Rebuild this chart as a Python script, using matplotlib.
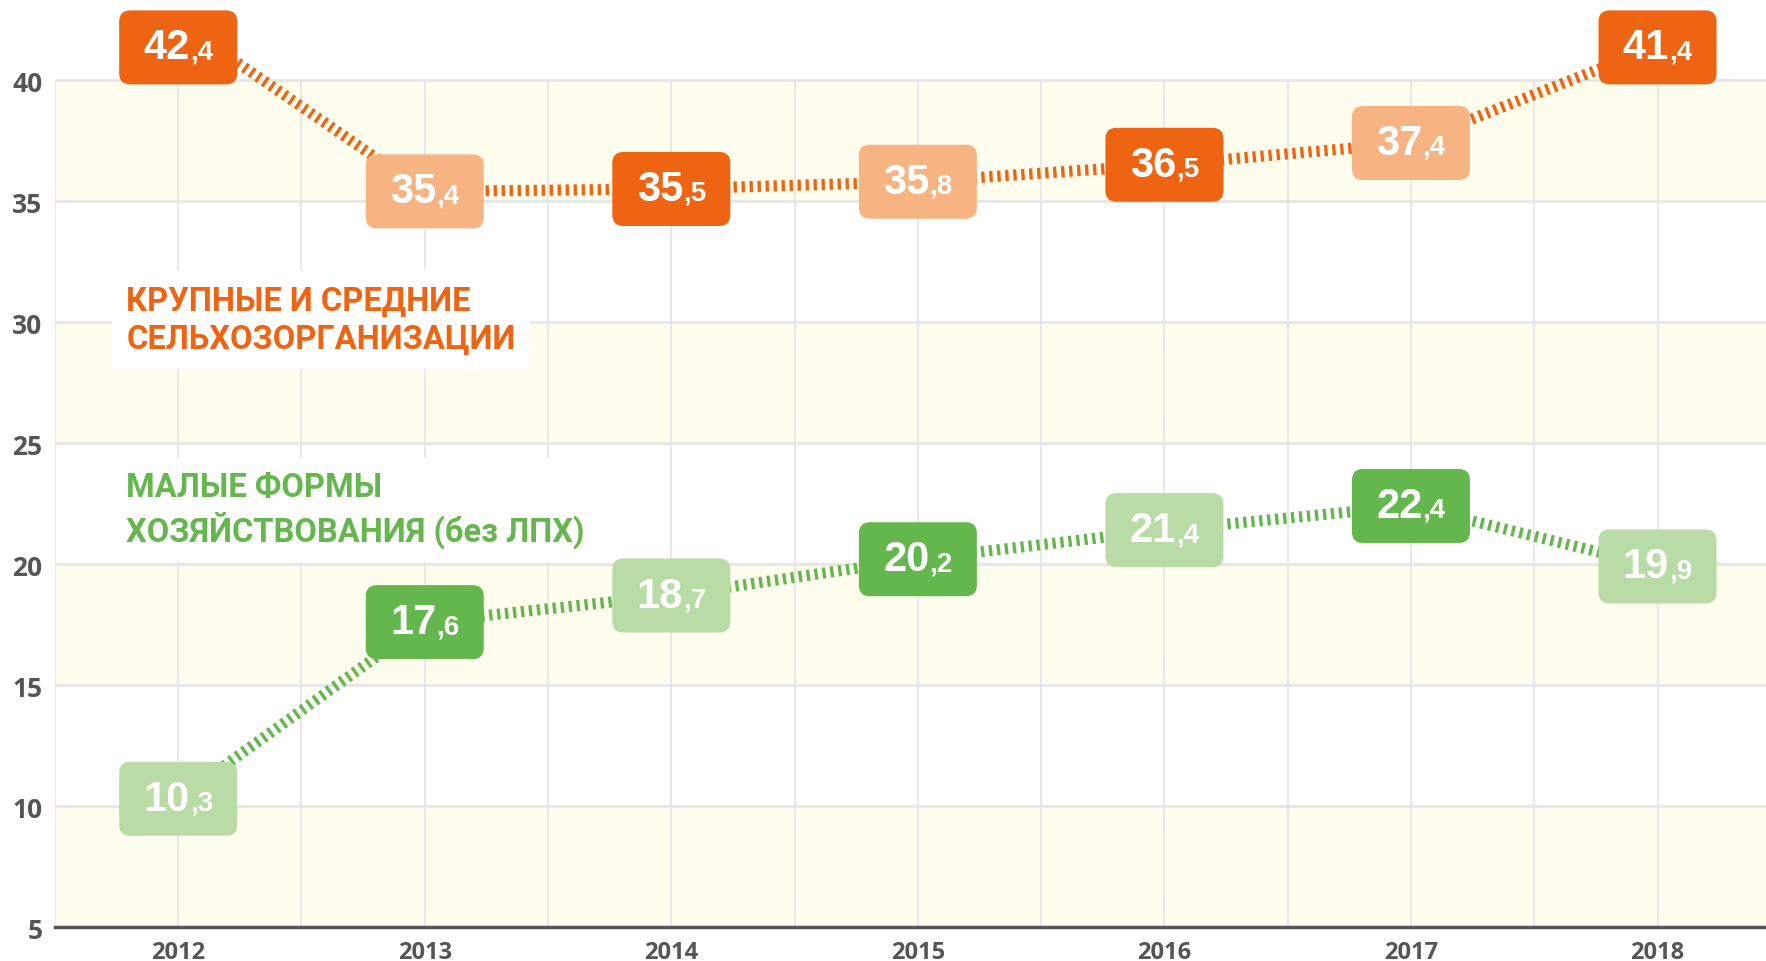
import matplotlib
matplotlib.use('Agg')
import matplotlib.pyplot as plt
import matplotlib.patches as mpatches
from matplotlib.offsetbox import TextArea, HPacker, AnnotationBbox

years = [2012, 2013, 2014, 2015, 2016, 2017, 2018]
large_farms = [42.4, 35.4, 35.5, 35.8, 36.5, 37.4, 41.4]
small_farms = [10.3, 17.6, 18.7, 20.2, 21.4, 22.4, 19.9]
y_ticks = [5, 10, 15, 20, 25, 30, 35, 40]
large_title = 'КРУПНЫЕ И СРЕДНИЕ\nСЕЛЬХОЗОРГАНИЗАЦИИ'
small_title = 'МАЛЫЕ ФОРМЫ\nХОЗЯЙСТВОВАНИЯ (без ЛПХ)'

ORANGE = '#ee6412'
ORANGE_LIGHT = '#f8b382'
GREEN = '#64b74c'
GREEN_LIGHT = '#b9dba6'
BAND = '#fefdee'
GRID = '#e6e6e6'
TICK = '#555555'

LABEL_FONT = 'Roboto'
TICK_FONT = 'Open Sans'
NUM_FONT = 'Liberation Sans'

fig = plt.figure(figsize=(17.66, 9.62), dpi=100)
ax = fig.add_axes([0.0311, 0.0353, 0.9689, 0.9647])
ax.set_xlim(2011.5, 2018.44)
ax.set_ylim(5, 43.35)

# yellow bands every other interval
for lo, hi in zip(y_ticks[:-1], y_ticks[1:]):
    if (lo // 5) % 2 == 1:
        ax.axhspan(lo, hi, color=BAND, lw=0, zorder=0)

ax.hlines(y_ticks[1:], 2011.5, 2018.44, color=GRID, lw=2, zorder=1)
half_years = [2011.5 + 0.5 * i for i in range(14)]
ax.vlines(half_years, 5, 40, color=GRID, lw=1.3, zorder=1)

for s in ['top', 'right', 'left']:
    ax.spines[s].set_visible(False)
ax.spines['bottom'].set_color(TICK)
ax.spines['bottom'].set_linewidth(2.5)
ax.spines['bottom'].set_zorder(3)

ax.set_xticks(years)
ax.set_xticklabels([str(y) for y in years])
ax.set_yticks(y_ticks)
ax.tick_params(length=0)
ax.tick_params(axis='x', pad=9)
ax.tick_params(axis='y', pad=9)
for lab in ax.get_xticklabels():
    lab.set_fontfamily(TICK_FONT); lab.set_fontweight('bold'); lab.set_fontsize(17); lab.set_color(TICK)
for lab in ax.get_yticklabels():
    lab.set_fontfamily(TICK_FONT); lab.set_fontweight('bold'); lab.set_fontsize(19); lab.set_color(TICK)

# series titles with white background
ax.text(2011.79, 30.1, large_title, color=ORANGE, fontsize=23.5, fontweight='bold',
        family=LABEL_FONT, linespacing=1.25, va='center', ha='left', zorder=2,
        bbox=dict(fc='white', ec='none', pad=10))
ax.text(2011.79, 22.25, small_title, color=GREEN, fontsize=23.5, fontweight='bold',
        family=LABEL_FONT, linespacing=1.25, va='center', ha='left', zorder=2,
        bbox=dict(fc='white', ec='none', pad=10))

# rounded box marker (size in px: 118 x 74)
box_path = mpatches.BoxStyle('Round', pad=0, rounding_size=11)(-59, -37, 118, 74, 1.0)
box_size = (118 * 0.72) ** 2
top_limit = 41.35


def draw_series(values, line_color, colors):
    ax.plot(years, values, color=line_color, lw=8, ls=(0, (0.3, 0.42)),
            dash_capstyle='butt', zorder=4)
    box_y = [min(v, top_limit) for v in values]
    ax.scatter(years, box_y, s=box_size, marker=box_path, c=colors,
               linewidths=0, zorder=5)
    for x, y, v in zip(years, box_y, values):
        whole, frac = ('%.1f' % v).split('.')
        big = TextArea(whole, textprops=dict(color='white', fontsize=30,
                                             fontweight='bold', family=NUM_FONT))
        small = TextArea(',' + frac, textprops=dict(color='white', fontsize=20,
                                                    fontweight='bold', family=NUM_FONT))
        pack = HPacker(children=[big, small], align='baseline', pad=0, sep=0)
        ab = AnnotationBbox(pack, (x, y), frameon=False, box_alignment=(0.5, 0.5),
                            zorder=6)
        ax.add_artist(ab)


draw_series(large_farms, ORANGE,
            [ORANGE if i % 2 == 0 else ORANGE_LIGHT for i in range(len(years))])
draw_series(small_farms, GREEN,
            [GREEN_LIGHT if i % 2 == 0 else GREEN for i in range(len(years))])

fig.savefig('out.png', dpi=100)
